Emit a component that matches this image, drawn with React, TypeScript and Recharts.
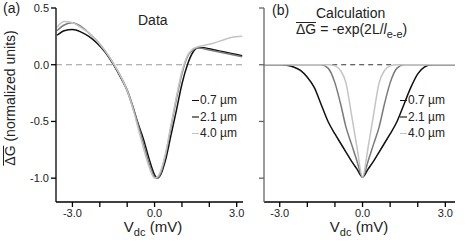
import React from 'react';
import { LineChart, Line, XAxis, YAxis, ReferenceLine } from 'recharts';

// measured curves, panel (a)
const dataV = [-3.56, -3.3, -3.0, -2.7, -2.4, -2.1, -1.8, -1.5, -1.2, -1.0, -0.8, -0.6, -0.4, -0.2, 0.0, 0.1, 0.2, 0.4, 0.6, 0.8, 1.0, 1.2, 1.4, 1.6, 1.8, 2.0, 2.4, 2.8, 3.2];
const data07 = [0.26, 0.3, 0.31, 0.29, 0.25, 0.19, 0.11, 0.0, -0.13, -0.23, -0.37, -0.52, -0.66, -0.83, -0.97, -1.0, -0.98, -0.84, -0.62, -0.4, -0.17, 0.0, 0.11, 0.15, 0.15, 0.14, 0.12, 0.1, 0.08];
const data21 = [0.3, 0.35, 0.37, 0.34, 0.28, 0.21, 0.12, 0.01, -0.12, -0.22, -0.36, -0.53, -0.7, -0.87, -0.99, -1.0, -0.97, -0.8, -0.55, -0.3, -0.08, 0.07, 0.13, 0.15, 0.14, 0.13, 0.11, 0.09, 0.07];
const data40 = [0.33, 0.38, 0.37, 0.33, 0.28, 0.21, 0.12, 0.01, -0.12, -0.23, -0.38, -0.56, -0.74, -0.9, -1.0, -0.99, -0.95, -0.78, -0.53, -0.28, -0.06, 0.08, 0.14, 0.16, 0.17, 0.18, 0.21, 0.24, 0.25];

// calculated curves, panel (b)
const calcV = [-3.57, -3.0, -2.75, -2.5, -2.25, -2.0, -1.75, -1.5, -1.25, -1.0, -0.8, -0.6, -0.4, -0.2, 0, 0.2, 0.4, 0.6, 0.8, 1.0, 1.25, 1.5, 1.75, 2.0, 2.25, 2.5, 3.0, 3.35];
const calc07 = [0, 0, -0.005, -0.02, -0.05, -0.11, -0.2, -0.35, -0.5, -0.61, -0.69, -0.77, -0.85, -0.92, -0.99, -0.92, -0.85, -0.77, -0.69, -0.61, -0.5, -0.35, -0.2, -0.08, -0.02, 0, 0, 0];
const calc21 = [0, 0, 0, 0, 0, 0, 0, 0, -0.03, -0.16, -0.34, -0.55, -0.7, -0.85, -0.99, -0.85, -0.7, -0.55, -0.34, -0.16, -0.03, 0, 0, 0, 0, 0, 0, 0];
const calc40 = [0, 0, 0, 0, 0, 0, 0, 0, 0, -0.01, -0.05, -0.16, -0.44, -0.73, -0.99, -0.73, -0.44, -0.16, -0.05, -0.01, 0, 0, 0, 0, 0, 0, 0, 0];

const xTicks = [-3, -2, -1, 0, 1, 2, 3];
const yTicks = [-1, -0.5, 0, 0.5];
const legendLabels = ['0.7 \u00b5m', '2.1 \u00b5m', '4.0 \u00b5m'];
const colors = ['#111111', '#7a7a7a', '#c4c4c4'];

const dataRows = dataV.map((v, i) => ({ v, a: data07[i], b: data21[i], c: data40[i] }));
const calcRows = calcV.map((v, i) => ({ v, a: calc07[i], b: calc21[i], c: calc40[i] }));

const font = '"Liberation Sans", Arial, sans-serif';
const tickStyle = { fill: '#222', fontSize: 11, fontFamily: font };
const fmtX = (v: number) => (v % 3 === 0 ? v.toFixed(1) : '');

// overlined Delta G, drawn with a border so it sits just above the glyphs
const DeltaG = () => (
  <span style={{ display: 'inline-block', borderTop: '1px solid #222', lineHeight: '13px', paddingTop: 0 }}>{'\u0394G'}</span>
);

const Legend = ({ left, top }: { left: number; top: number }) => (
  <div style={{ position: 'absolute', left, top, fontFamily: font, fontSize: 12, color: '#222' }}>
    {legendLabels.map((t, i) => (
      <div key={t} style={{ display: 'flex', alignItems: 'center', height: 16.5 }}>
        <span style={{ display: 'inline-block', width: 7, height: 1.5, background: colors[i], marginRight: 1 }} />
        <span>{t}</span>
      </div>
    ))}
  </div>
);

const XLabel = ({ cx }: { cx: number }) => (
  <div style={{ position: 'absolute', left: cx - 40, width: 80, top: 218, textAlign: 'center', fontFamily: font, fontSize: 15, color: '#222' }}>
    V<sub style={{ fontSize: 11 }}>dc</sub> (mV)
  </div>
);

export default function App() {
  return (
    <div style={{ position: 'absolute', left: 0, top: 0, width: 467, height: 243, background: '#fff' }}>
      <div style={{ position: 'absolute', left: 0, top: 0 }}>
        <LineChart width={250} height={243} data={dataRows} margin={{ top: 8, right: 7, left: 26, bottom: 11 }}>
          <XAxis dataKey="v" type="number" domain={[-3.6, 3.23]} ticks={xTicks} tickFormatter={fmtX}
            allowDataOverflow height={30} stroke="#000" strokeWidth={1.3} tickSize={5} tick={tickStyle} interval={0} />
          <YAxis type="number" domain={[-1.21, 0.5]} ticks={yTicks} tickFormatter={(v: number) => v.toFixed(1)}
            allowDataOverflow width={30} stroke="#000" strokeWidth={1.3} tickSize={5} tick={tickStyle} interval={0} />
          <ReferenceLine y={0} stroke="#9a9a9a" strokeDasharray="6 4" strokeWidth={1.2} />
          <Line dataKey="a" type="monotone" stroke={colors[0]} strokeWidth={1.5} dot={false} isAnimationActive={false} />
          <Line dataKey="b" type="monotone" stroke={colors[1]} strokeWidth={1.5} dot={false} isAnimationActive={false} />
          <Line dataKey="c" type="monotone" stroke={colors[2]} strokeWidth={1.5} dot={false} isAnimationActive={false} />
        </LineChart>
      </div>
      <div style={{ position: 'absolute', left: 240, top: 0 }}>
        <LineChart width={227} height={243} data={calcRows} margin={{ top: 8, right: 12, left: 14, bottom: 11 }}>
          <XAxis dataKey="v" type="number" domain={[-3.57, 3.35]} ticks={xTicks} tickFormatter={fmtX}
            allowDataOverflow height={30} stroke="#000" strokeWidth={1.3} tickSize={5} tick={tickStyle} interval={0} />
          <YAxis type="number" domain={[-1.21, 0.5]} ticks={yTicks} tickFormatter={() => ''}
            allowDataOverflow width={10} stroke="#666" strokeWidth={1.3} tickSize={5} tick={tickStyle} interval={0} />
          {/* dashed zero line only shows where the curves leave zero */}
          <ReferenceLine segment={[{ x: -1.1, y: 0 }, { x: 1.1, y: 0 }]} stroke="#333" strokeDasharray="5 4" strokeWidth={1.2} />
          <Line dataKey="a" type="monotone" stroke={colors[0]} strokeWidth={1.5} dot={false} isAnimationActive={false} />
          <Line dataKey="b" type="monotone" stroke={colors[1]} strokeWidth={1.5} dot={false} isAnimationActive={false} />
          <Line dataKey="c" type="monotone" stroke={colors[2]} strokeWidth={1.5} dot={false} isAnimationActive={false} />
        </LineChart>
      </div>

      <div style={{ position: 'absolute', left: 3, top: 0, fontFamily: font, fontSize: 14, color: '#222' }}>(a)</div>
      <div style={{ position: 'absolute', left: 138, top: 12, fontFamily: font, fontSize: 14, color: '#222' }}>Data</div>
      <div style={{ position: 'absolute', left: 272, top: 2, fontFamily: font, fontSize: 14, color: '#222' }}>(b)</div>
      <div style={{ position: 'absolute', left: 316, top: 5, fontFamily: font, fontSize: 14, color: '#222' }}>Calculation</div>
      <div style={{ position: 'absolute', left: 296, top: 21, fontFamily: font, fontSize: 14, color: '#222', whiteSpace: 'nowrap' }}>
        <DeltaG /> = -exp(2L/<i>l</i>
        <sub style={{ fontSize: 11 }}>e-e</sub>)
      </div>

      <div style={{ position: 'absolute', left: 10, top: 98, width: 0, height: 0 }}>
        <div style={{ position: 'absolute', transform: 'translate(-50%, -50%) rotate(-90deg)', whiteSpace: 'nowrap', fontFamily: font, fontSize: 14, color: '#222' }}>
          <DeltaG /> (normalized units)
        </div>
      </div>

      <Legend left={192} top={92} />
      <Legend left={400} top={92} />
      <XLabel cx={153} />
      <XLabel cx={359} />
    </div>
  );
}
